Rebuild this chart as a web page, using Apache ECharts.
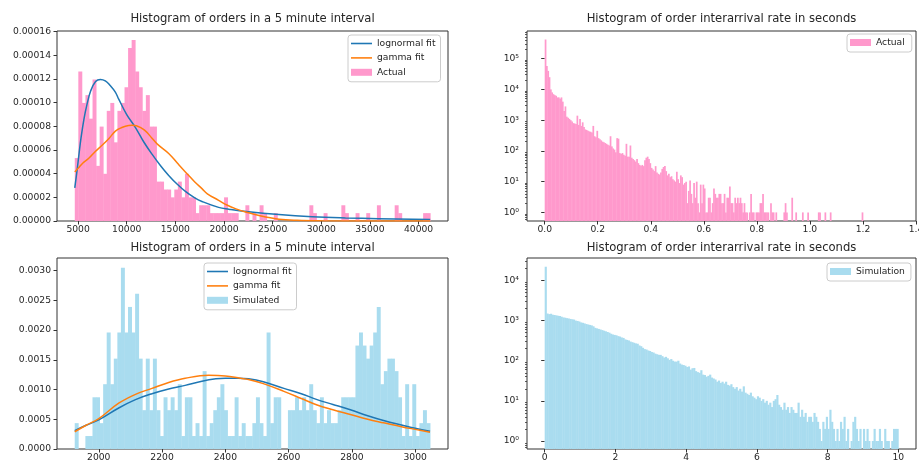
<!DOCTYPE html>
<html>
<head>
<meta charset="utf-8">
<script src="https://cdn.jsdelivr.net/npm/echarts@6/dist/echarts.min.js"></script>
<style>html,body{margin:0;padding:0;background:#fff}#c{width:919px;height:462px}</style>
</head>
<body>
<div id="c"></div>
<script>
// ---------------- DATA ----------------
// Top-left: histogram of orders per 5 minute interval (actual), 100 bins
const actualOrdersStart = 4661;
const actualOrdersBinWidth = 365.39;
const actualOrdersDensity = [
  5.32e-5, 12.64e-5, 9.98e-5, 10.64e-5, 8.65e-5, 11.97e-5, 4.66e-5, 7.98e-5, 3.99e-5, 9.31e-5,
  9.98e-5, 6.65e-5, 9.31e-5, 9.98e-5, 11.3e-5, 14.63e-5, 15.3e-5, 12.64e-5, 11.3e-5, 9.31e-5,
  10.64e-5, 7.98e-5, 7.98e-5, 3.33e-5, 3.33e-5, 2.66e-5, 2.66e-5, 2.0e-5, 2.66e-5, 3.33e-5,
  2.0e-5, 3.99e-5, 2.0e-5, 2.0e-5, 0.665e-5, 1.33e-5, 1.33e-5, 1.33e-5, 0.665e-5, 0.665e-5,
  0.665e-5, 0.665e-5, 2.0e-5, 0.665e-5, 0.665e-5, 0.665e-5, 0, 0, 1.33e-5, 0,
  0.665e-5, 0, 1.33e-5, 0.665e-5, 0, 0, 0.665e-5, 0, 0, 0,
  0, 0, 0, 0, 0, 0, 1.33e-5, 0.665e-5, 0, 0,
  0.665e-5, 0, 0, 0, 0, 1.33e-5, 0.665e-5, 0, 0, 0.665e-5,
  0, 0, 0.665e-5, 0, 0, 1.33e-5, 0, 0, 0, 0,
  1.33e-5, 0.665e-5, 0, 0, 0, 0, 0, 0, 0.665e-5, 0.665e-5
];
const actualLognormX = [4661, 4900, 5100, 5300, 5600, 5900, 6300, 6800, 7300, 7800, 8300, 8830, 9180, 10000, 10900, 11740, 12600, 13500, 14315, 15200, 16030, 17000, 17735, 19450, 20500, 22300, 25640, 29070, 32490, 35880, 41200];
const actualLognormY = [2.8e-5, 4.3e-5, 5.7e-5, 7.0e-5, 8.6e-5, 9.8e-5, 11.0e-5, 11.8e-5, 11.97e-5, 11.85e-5, 11.45e-5, 10.9e-5, 10.3e-5, 9.0e-5, 7.9e-5, 6.7e-5, 5.65e-5, 4.65e-5, 3.85e-5, 3.1e-5, 2.5e-5, 1.95e-5, 1.65e-5, 1.15e-5, 1.0e-5, 0.8e-5, 0.54e-5, 0.36e-5, 0.26e-5, 0.2e-5, 0.12e-5];
const actualGammaX = [4661, 5000, 5500, 6100, 6800, 7470, 8200, 8840, 9500, 10200, 10550, 11000, 11800, 12600, 13150, 14315, 15200, 16030, 17000, 17735, 18290, 19450, 20300, 21165, 22220, 23300, 24280, 25640, 27500, 30000, 35000, 41200];
const actualGammaY = [4.15e-5, 4.45e-5, 4.9e-5, 5.3e-5, 5.9e-5, 6.4e-5, 7.0e-5, 7.6e-5, 7.9e-5, 8.08e-5, 8.1e-5, 8.05e-5, 7.7e-5, 7.0e-5, 6.5e-5, 5.71e-5, 4.9e-5, 4.15e-5, 3.3e-5, 2.74e-5, 2.3e-5, 1.75e-5, 1.35e-5, 1.05e-5, 0.76e-5, 0.52e-5, 0.34e-5, 0.15e-5, 0.06e-5, 0.02e-5, 0.005e-5, 0.001e-5];

// Top-right: interarrival (actual), counts per 0.005 s bin
const actualGapStart = 0;
const actualGapBinWidth = 0.005;
const actualGapCounts = [
  420000, 58000, 40000, 25000, 10000, 8000, 7000, 6500, 6200, 5500,
  5500, 5000, 5500, 4000, 2000, 2800, 1300, 1200, 1100, 1000,
  900, 800, 780, 750, 1400, 700, 1100, 650, 850, 600,
  500, 480, 450, 430, 420, 400, 650, 300, 280, 450,
  260, 240, 220, 200, 190, 180, 170, 160, 150, 300,
  140, 120, 110, 90, 260, 250, 85, 80, 85, 75,
  70, 170, 65, 65, 150, 60, 55, 50, 45, 55,
  40, 35, 33, 35, 32, 50, 60, 65, 55, 40,
  28, 25, 22, 32, 20, 18, 17, 20, 26, 30,
  32, 22, 16, 18, 14, 15, 12, 11, 10, 21,
  12, 9, 16, 14, 8, 9, 10, 2, 5, 11,
  4, 2, 9, 3, 10, 2, 1, 8, 2, 8,
  6, 1, 1, 3, 3, 1, 2, 6, 4, 3,
  3, 4, 4, 2, 2, 4, 1, 3, 3, 7,
  2, 2, 1, 3, 2, 3, 2, 3, 2, 1,
  2, 1, 1, 0, 1, 4, 1, 1, 0, 1,
  1, 1, 2, 2, 4, 1, 1, 1, 1, 0,
  2, 1, 1, 0, 1, 0, 0, 0, 0, 0,
  1, 2, 1, 0, 0, 0, 3, 0, 0, 1,
  0, 0, 0, 0, 1, 0, 0, 0, 1, 0,
  0, 0, 0, 0, 0, 0, 1, 1, 0, 0,
  0, 1, 0, 0, 0, 1, 0, 0, 0, 0,
  0, 0, 0, 0, 0, 0, 0, 0, 0, 0,
  0, 0, 0, 0, 0, 0, 0, 0, 0, 1
];

// Bottom-left: histogram of orders per 5 minute interval (simulated), 100 bins
const simOrdersStart = 1924;
const simOrdersBinWidth = 11.23;
const simOrdersDensity = [
  0.000435, 0, 0, 0.000218, 0.000218, 0.00087, 0.00087, 0.000435, 0.00109, 0.00196,
  0.00109, 0.00152, 0.00196, 0.00305, 0.00196, 0.00239, 0.00196, 0.00261, 0.00152, 0.000653,
  0.00152, 0.000653, 0.00152, 0.000653, 0.000218, 0.00087, 0.000653, 0.00087, 0.000653, 0.00109,
  0.000218, 0.00087, 0.00087, 0.000218, 0.000435, 0.000218, 0.00131, 0.000218, 0.000435, 0.000653,
  0.00087, 0.00109, 0.000653, 0.000218, 0.000218, 0.00087, 0.000218, 0.000435, 0.000218, 0.000218,
  0.000435, 0.00087, 0.000435, 0.000218, 0.00196, 0.000435, 0.00087, 0.00087, 0, 0,
  0.000653, 0.000653, 0.00087, 0.000653, 0.00087, 0.000653, 0.00109, 0.000653, 0.000435, 0.00087,
  0.000435, 0.000653, 0.000435, 0.000435, 0.000653, 0.00087, 0.00087, 0.00087, 0.00087, 0.00174,
  0.00196, 0.00174, 0.00152, 0.00174, 0.00196, 0.00239, 0.00109, 0.00131, 0.00152, 0.00152,
  0.00131, 0.00087, 0.000218, 0.00109, 0.000218, 0.00109, 0.000218, 0.000435, 0.000653, 0.000435
];
const simLognormX = [1924, 1960, 2000, 2063, 2116, 2168, 2221, 2273, 2326, 2370, 2400, 2440, 2473, 2520, 2585, 2640, 2690, 2740, 2795, 2850, 2900, 2960, 3000, 3047];
const simLognormY = [0.00031, 0.0004, 0.00049, 0.00069, 0.00083, 0.00093, 0.00101, 0.00107, 0.00114, 0.00118, 0.00119, 0.00119, 0.00118, 0.00113, 0.00102, 0.00093, 0.00083, 0.00075, 0.00066, 0.00056, 0.00048, 0.0004, 0.00035, 0.0003];
const simGammaX = [1924, 1960, 2000, 2063, 2116, 2168, 2221, 2273, 2347, 2400, 2448, 2473, 2520, 2585, 2640, 2690, 2740, 2795, 2850, 2900, 2960, 3000, 3047];
const simGammaY = [0.00029, 0.0004, 0.00051, 0.00077, 0.00092, 0.00102, 0.00112, 0.00119, 0.00124, 0.00123, 0.00119, 0.00117, 0.0011, 0.00097, 0.00085, 0.00074, 0.00066, 0.00058, 0.0005, 0.00044, 0.00037, 0.00033, 0.00028];

// Bottom-right: interarrival (simulation), counts per 0.05 s bin
const simGapStart = 0;
const simGapBinWidth = 0.05;
const simGapCounts = [
  22000, 1500, 1450, 1480, 1400, 1380, 1350, 1320, 1300, 1250,
  1200, 1180, 1150, 1130, 1100, 1080, 1060, 1000, 980, 950,
  900, 880, 850, 820, 800, 780, 760, 720, 660, 640,
  620, 600, 580, 560, 540, 520, 500, 470, 450, 440,
  430, 410, 400, 380, 370, 340, 330, 320, 300, 290,
  280, 270, 265, 240, 230, 210, 195, 190, 180, 175,
  165, 160, 150, 145, 140, 140, 130, 120, 125, 115,
  105, 110, 100, 95, 95, 100, 85, 80, 78, 75,
  70, 72, 60, 65, 66, 55, 52, 50, 58, 45,
  44, 40, 42, 45, 38, 36, 34, 30, 32, 28,
  30, 27, 30, 25, 24, 26, 22, 20, 22, 18,
  20, 17, 23, 16, 15, 14, 16, 13, 12, 11,
  13, 12, 10, 11, 9, 10, 8, 9, 7, 10,
  11, 14, 8, 7, 6, 9, 6, 7, 5, 7,
  6, 5, 5, 9, 4, 6, 4, 5, 3, 4,
  4, 3, 5, 4, 3, 2, 1, 3, 2, 4,
  2, 6, 3, 2, 1, 2, 1, 3, 2, 4,
  1, 2, 0, 1, 3, 4, 2, 1, 2, 0,
  2, 1, 2, 1, 0, 1, 2, 1, 1, 2,
  1, 0, 2, 1, 1, 0, 1, 2, 2, 2
];

// Tick labels
const tlXTicks = [5000, 10000, 15000, 20000, 25000, 30000, 35000, 40000];
const tlYTicks = [0, 0.00002, 0.00004, 0.00006, 0.00008, 0.00010, 0.00012, 0.00014, 0.00016];
const trXTicks = [0, 0.2, 0.4, 0.6, 0.8, 1.0, 1.2, 1.4];
const trYTicks = [1, 10, 100, 1000, 10000, 100000];
const blXTicks = [2000, 2200, 2400, 2600, 2800, 3000];
const blYTicks = [0, 0.0005, 0.0010, 0.0015, 0.0020, 0.0025, 0.0030];
const brXTicks = [0, 2, 4, 6, 8, 10];
const brYTicks = [1, 10, 100, 1000, 10000];
const superscripts = ['\u2070', '\u00b9', '\u00b2', '\u00b3', '\u2074', '\u2075', '\u2076'];

// ---------------- STYLE / BUILD ----------------
const FONT = 'DejaVu Sans';
const TXT = '#262626';
const PINK = '#ff99cc';
const SKY = '#a9dcef';
const BLUE = '#1f77b4';
const ORANGE = '#ff7f0e';
const LINE_ICON = 'path://M0,0 L20,0 L20,1.5 L0,1.5 Z';

function minorLog(lo, hi) {
  const out = [];
  for (let e = -1; e <= 6; e++) for (let m = 2; m <= 9; m++) {
    const v = m * Math.pow(10, e);
    if (v >= lo && v <= hi) out.push(v);
  }
  return out;
}
function histData(start, width, values) {
  return values.map((v, i) => [start + i * width, start + (i + 1) * width, v]).filter(d => d[2] > 0);
}
function histRender(color, isLog) {
  return function (params, api) {
    const x0 = api.value(0), x1 = api.value(1), v = api.value(2);
    if (!(v > 0)) return null;
    const cs = params.coordSys;
    const p0 = api.coord([x0, v]);
    const p1 = api.coord([x1, v]);
    const baseY = isLog ? cs.y + cs.height : api.coord([x0, 0])[1];
    const y = Math.max(p0[1], cs.y);
    return { type: 'rect', shape: { x: p0[0], y: y, width: p1[0] - p0[0] + 0.4, height: baseY - y }, style: { fill: color } };
  };
}
function histSeries(name, gi, yi, start, width, values, color, isLog) {
  return {
    type: 'custom', name, xAxisIndex: gi, yAxisIndex: yi, clip: true,
    renderItem: histRender(color, isLog), itemStyle: { color },
    encode: { x: [0, 1], y: 2 }, data: histData(start, width, values), z: 1
  };
}
function lineSeries(name, gi, yi, xs, ys, color) {
  return {
    type: 'line', name, xAxisIndex: gi, yAxisIndex: yi, symbol: 'none', smooth: 0.4,
    lineStyle: { color, width: 1.5 }, itemStyle: { color }, z: 3,
    data: xs.map((x, i) => [x, ys[i]])
  };
}
const labelStyle = { fontSize: 9.2, fontFamily: FONT, color: TXT };
function xAx(gi, min, max, ticks, fmt) {
  return {
    type: 'value', gridIndex: gi, min, max, position: 'bottom',
    axisLine: { show: false }, splitLine: { show: false },
    axisTick: { show: true, customValues: ticks, length: 3.5, lineStyle: { color: '#333', width: 1 } },
    axisLabel: Object.assign({ show: true, customValues: ticks, formatter: fmt, margin: 4 }, labelStyle)
  };
}
function yAx(gi, min, max, ticks, fmt) {
  return {
    type: 'value', gridIndex: gi, min, max, position: 'left',
    axisLine: { show: false }, splitLine: { show: false },
    axisTick: { show: true, customValues: ticks, length: 3.5, lineStyle: { color: '#333', width: 1 } },
    axisLabel: Object.assign({ show: true, customValues: ticks, formatter: fmt, margin: 6 }, labelStyle)
  };
}
function yLog(gi, min, max, ticks) {
  return {
    type: 'log', logBase: 10, gridIndex: gi, min, max, position: 'left',
    axisLine: { show: false }, splitLine: { show: false },
    axisTick: { show: true, customValues: ticks, length: 3.5, lineStyle: { color: '#333', width: 1 } },
    axisLabel: Object.assign({ show: true, customValues: ticks, margin: 8,
      formatter: v => '10' + superscripts[Math.round(Math.log10(v))] }, labelStyle)
  };
}
function yLogMinor(gi, min, max) {
  return {
    type: 'log', logBase: 10, gridIndex: gi, min, max, position: 'left',
    axisLine: { show: false }, splitLine: { show: false },
    axisTick: { show: true, customValues: minorLog(min, max), length: 2, lineStyle: { color: '#333', width: 0.8 } },
    axisLabel: { show: false }
  };
}
const titleStyle = { fontSize: 11.6, fontWeight: 'normal', fontFamily: FONT, color: TXT };
function legend(left, top, data, padding) {
  return {
    left, top, orient: 'vertical', data, padding, itemWidth: 21, itemHeight: 7, itemGap: 3.4,
    selectedMode: false, backgroundColor: 'rgba(255,255,255,0.8)', borderColor: '#cccccc',
    borderWidth: 1, borderRadius: 3,
    textStyle: { fontSize: 9.2, fontFamily: FONT, color: TXT, lineHeight: 11 }
  };
}
const gridBase = { show: true, borderColor: '#333', borderWidth: 1, backgroundColor: 'transparent', containLabel: false, outerBoundsMode: 'none' };

const TR_YMIN = 0.525, TR_YMAX = 7.94e5, BR_YMIN = 0.631, BR_YMAX = 3.63e4;

const option = {
  animation: false,
  backgroundColor: '#ffffff',
  title: [
    { text: 'Histogram of orders in a 5 minute interval', left: 252.5, top: 13, textAlign: 'center', padding: 0, textStyle: titleStyle },
    { text: 'Histogram of order interarrival rate in seconds', left: 721.5, top: 13, textAlign: 'center', padding: 0, textStyle: titleStyle },
    { text: 'Histogram of orders in a 5 minute interval', left: 252.5, top: 241.5, textAlign: 'center', padding: 0, textStyle: titleStyle },
    { text: 'Histogram of order interarrival rate in seconds', left: 721.5, top: 241.5, textAlign: 'center', padding: 0, textStyle: titleStyle }
  ],
  legend: [
    legend(348, 35, [{ name: 'lognormal fit', icon: LINE_ICON }, { name: 'gamma fit', icon: LINE_ICON }, { name: 'Actual', icon: 'rect' }], [3, 5, 4, 3]),
    legend(847, 34, [{ name: 'Actual', icon: 'rect' }], [3, 7, 4, 3]),
    legend(204, 263, [{ name: 'lognormal fit', icon: LINE_ICON }, { name: 'gamma fit', icon: LINE_ICON }, { name: 'Simulated', icon: 'rect' }], [3, 5, 4, 3]),
    legend(827, 263, [{ name: 'Simulation', icon: 'rect' }], [3, 6, 4, 3])
  ],
  grid: [
    Object.assign({ left: 57, top: 31, width: 391, height: 190 }, gridBase),
    Object.assign({ left: 527, top: 31, width: 389, height: 190 }, gridBase),
    Object.assign({ left: 57, top: 258, width: 391, height: 191 }, gridBase),
    Object.assign({ left: 527, top: 258, width: 389, height: 191 }, gridBase)
  ],
  xAxis: [
    xAx(0, 2834, 43027, tlXTicks, v => String(Math.round(v))),
    xAx(1, -0.0667, 1.4, trXTicks, v => v.toFixed(1)),
    xAx(2, 1868, 3103.7, blXTicks, v => String(Math.round(v))),
    xAx(3, -0.5, 10.5, brXTicks, v => String(Math.round(v)))
  ],
  yAxis: [
    yAx(0, 0, 0.0001606, tlYTicks, v => v.toFixed(5)),
    yLog(1, TR_YMIN, TR_YMAX, trYTicks),
    yLogMinor(1, TR_YMIN, TR_YMAX),
    yAx(2, 0, 0.003213, blYTicks, v => v.toFixed(4)),
    yLog(3, BR_YMIN, BR_YMAX, brYTicks),
    yLogMinor(3, BR_YMIN, BR_YMAX)
  ],
  series: [
    histSeries('Actual', 0, 0, actualOrdersStart, actualOrdersBinWidth, actualOrdersDensity, PINK, false),
    lineSeries('lognormal fit', 0, 0, actualLognormX, actualLognormY, BLUE),
    lineSeries('gamma fit', 0, 0, actualGammaX, actualGammaY, ORANGE),
    histSeries('Actual', 1, 1, actualGapStart, actualGapBinWidth, actualGapCounts, PINK, true),
    histSeries('Simulated', 2, 3, simOrdersStart, simOrdersBinWidth, simOrdersDensity, SKY, false),
    lineSeries('lognormal fit', 2, 3, simLognormX, simLognormY, BLUE),
    lineSeries('gamma fit', 2, 3, simGammaX, simGammaY, ORANGE),
    histSeries('Simulation', 3, 4, simGapStart, simGapBinWidth, simGapCounts, SKY, true)
  ]
};
const chart = echarts.init(document.getElementById('c'), null, { renderer: 'canvas' });
chart.setOption(option);
</script>
</body>
</html>
